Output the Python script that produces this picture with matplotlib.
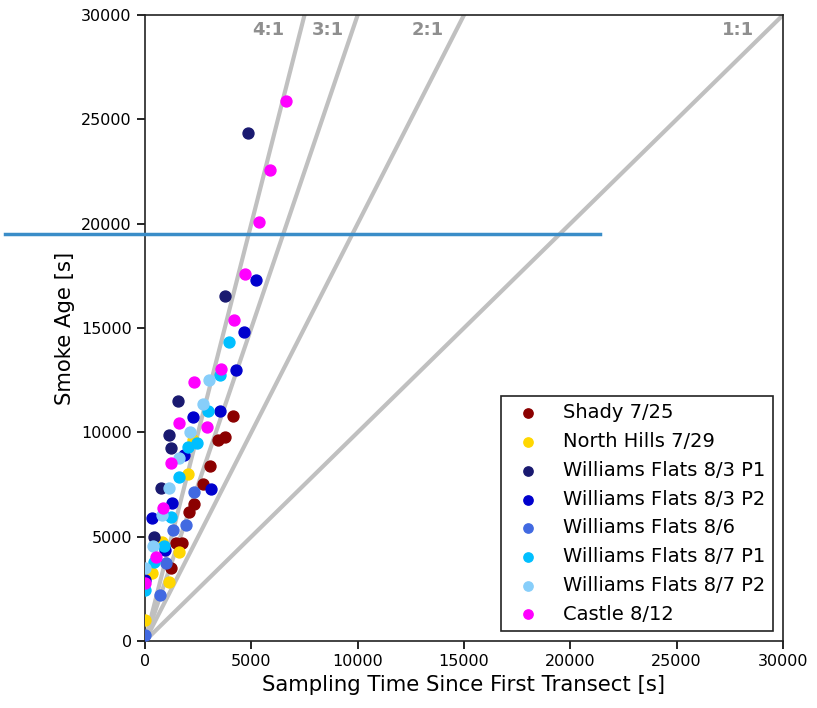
"""
    Smoke age vs sampling time, with ratio lines
"""
import numpy as np
import matplotlib.pyplot as plt
from matplotlib.lines import Line2D

#data, values in thousands of seconds
shady_x = [4.12, 3.76, 3.41, 3.06, 2.74, 2.30, 2.06, 1.72, 1.46, 1.21]
shady_y = [10.78, 9.76, 9.63, 8.40, 7.54, 6.58, 6.16, 4.71, 4.68, 3.48]
nhills_x = [2.27, 2.0, 1.61, 0.78, 1.13, 0.31, 0.0]
nhills_y = [9.63, 8.0, 4.28, 4.75, 2.84, 3.27, 1.0]
wf83p1_x = [4.84, 3.76, 1.57, 1.14, 1.20, 0.74, 0.42]
wf83p1_y = [24.34, 16.55, 11.5, 9.87, 9.23, 7.32, 5.0]
wf83p2_x = [5.22, 4.67, 4.28, 3.55, 2.24, 1.85, 3.10, 1.28, 0.31, 0.94, 0.0]
wf83p2_y = [17.30, 14.82, 13.0, 11.02, 10.75, 8.91, 7.27, 6.63, 5.88, 4.38, 2.92]
wf86_x = [2.30, 1.93, 1.33, 0.99, 0.71, 0.0]
wf86_y = [7.15, 5.54, 5.32, 3.72, 2.20, 0.31]
wf87p1_x = [3.96, 3.53, 2.94, 2.43, 2.0, 1.60, 1.22, 0.89, 0.42, 0.0]
wf87p1_y = [14.34, 12.75, 11.04, 9.51, 9.28, 7.84, 5.96, 4.55, 3.80, 2.44]
wf87p2_x = [3.02, 2.71, 2.12, 1.60, 1.14, 0.78, 0.36, 0.0]
wf87p2_y = [12.5, 11.36, 10.0, 8.75, 7.32, 6.04, 4.55, 3.48]
castle_x = [6.63, 5.88, 5.36, 4.72, 4.19, 3.56, 2.31, 1.58, 2.90, 1.20, 0.83, 0.52, 0.0]
castle_y = [25.87, 22.57, 20.08, 17.58, 15.36, 13.03, 12.39, 10.47, 10.24, 8.51, 6.36, 4.04, 2.80]

labels = ["Shady 7/25", "North Hills 7/29", "Williams Flats 8/3 P1", "Williams Flats 8/3 P2",
          "Williams Flats 8/6", "Williams Flats 8/7 P1", "Williams Flats 8/7 P2", "Castle 8/12"]
colors = ["darkred", "gold", "midnightblue", "mediumblue", "royalblue",
          "deepskyblue", "lightskyblue", "magenta"]
xs = [shady_x, nhills_x, wf83p1_x, wf83p2_x, wf86_x, wf87p1_x, wf87p2_x, castle_x]
ys = [shady_y, nhills_y, wf83p1_y, wf83p2_y, wf86_y, wf87p1_y, wf87p2_y, castle_y]

ratios = [4, 3, 2, 1]
ratio_text_x = [5800, 8600, 13300, 27900]

fig = plt.figure(figsize=(8.17, 7.08), dpi=100)
ax = fig.add_axes([145/817, 1 - 641/708, 638/817, 626/708])

#ratio lines
line_x = np.array([0, 30000])
for r, tx in zip(ratios, ratio_text_x):
    ax.plot(line_x, r * line_x, color='silver', lw=3, zorder=1)
    ax.text(tx, 29300, "%d:1" % r, color='#8f8f8f', fontsize=13, fontweight='bold',
            ha='center', va='center', zorder=2)

for x, y, c, lab in zip(xs, ys, colors, labels):
    ax.scatter(np.array(x) * 1000, np.array(y) * 1000, s=62, color=c, label=lab, zorder=3)

ax.set_xlim(0, 30000)
ax.set_ylim(0, 30000)
ax.set_xticks(np.arange(0, 30001, 5000))
ax.set_yticks(np.arange(0, 30001, 5000))
ax.tick_params(labelsize=11.5, length=6, width=1.2)
for s in ax.spines.values():
    s.set_linewidth(1.2)
    s.set_color('#222222')
ax.set_xlabel("Sampling Time Since First Transect [s]", fontsize=15.3)
ax.set_ylabel("Smoke Age [s]", fontsize=15.3)

leg = ax.legend(loc='lower right', fontsize=14, fancybox=False, framealpha=1,
                edgecolor='#222222', borderaxespad=0.5, labelspacing=0.5,
                markerscale=0.85)
leg.get_frame().set_linewidth(1.2)

#stray horizontal line across the figure
fig.add_artist(Line2D([5/817, 600/817], [1 - 234/708, 1 - 234/708],
                      transform=fig.transFigure, color='#3a8dc8', lw=2.5))

fig.savefig("out.png", dpi=100)
